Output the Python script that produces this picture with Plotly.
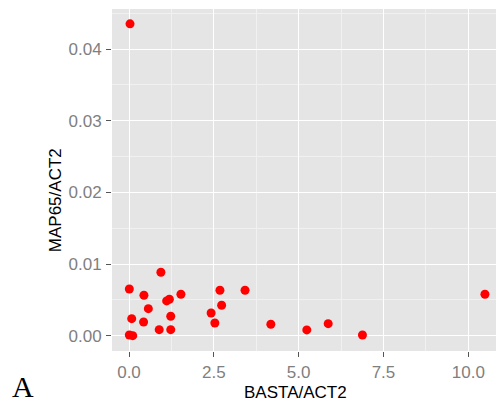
import plotly.graph_objects as go

basta = [0.03, 0.01, 0.94, 0.44, 0.57, 1.11, 1.19, 1.53, 0.08, 0.43, 1.23, 0.89, 1.23,
         0.01, 0.11, 2.42, 2.53, 2.68, 2.73, 3.42, 4.18, 5.24, 5.87, 6.88, 10.49]
map65 = [0.04353, 0.00652, 0.00885, 0.00564, 0.00377, 0.00485, 0.00508, 0.00578, 0.00237,
         0.00191, 0.00271, 0.00084, 0.00084, 0.0001, 0.0, 0.00317, 0.00177, 0.00634,
         0.00424, 0.00634, 0.00159, 0.0008, 0.00168, 0.0001, 0.00578]

x_ticks = [0, 2.5, 5, 7.5, 10]
x_ticklabels = ["0.0", "2.5", "5.0", "7.5", "10.0"]
y_ticks = [0, 0.01, 0.02, 0.03, 0.04]
y_ticklabels = ["0.00", "0.01", "0.02", "0.03", "0.04"]

font = "Liberation Sans, Arial, sans-serif"

fig = go.Figure()
fig.add_trace(go.Scatter(x=basta, y=map65, mode="markers",
                         marker=dict(color="#FF0000", size=9, line=dict(width=0)),
                         hoverinfo="skip", showlegend=False))

axis_common = dict(
    showgrid=True, gridcolor="#FFFFFF", gridwidth=1.4,
    zeroline=False, showline=False,
    ticks="outside", ticklen=5, tickwidth=1, tickcolor="#555555",
    tickfont=dict(family=font, size=17, color="#7F7F7F"),
)

fig.update_layout(
    width=496, height=405,
    margin=dict(l=112, r=0, t=9, b=54),
    paper_bgcolor="white", plot_bgcolor="#E5E5E5",
    xaxis=dict(range=[-0.501, 10.816], tickvals=x_ticks, ticktext=x_ticklabels,
               minor=dict(showgrid=True, dtick=1.25, tick0=0, gridcolor="#F1F1F1",
                          gridwidth=0.6, ticks=""),
               ticklabelstandoff=1, **axis_common),
    yaxis=dict(range=[-0.00214, 0.0456], tickvals=y_ticks, ticktext=y_ticklabels,
               minor=dict(showgrid=True, dtick=0.005, tick0=0, gridcolor="#F1F1F1",
                          gridwidth=0.6, ticks=""),
               ticklabelstandoff=1, **axis_common),
    annotations=[
        dict(text="BASTA/ACT2", xref="paper", yref="paper", x=0.478, y=(351 - 392) / 342,
             xanchor="center", yanchor="middle", showarrow=False,
             font=dict(family=font, size=17, color="#000000")),
        dict(text="MAP65/ACT2", xref="paper", yref="paper", x=-0.148, y=0.4415,
             xanchor="center", yanchor="middle", showarrow=False, textangle=-90,
             font=dict(family=font, size=17, color="#000000")),
        dict(text="A", xref="paper", yref="paper", x=(22.5 - 112) / 384, y=(351 - 405) / 342,
             xanchor="center", yanchor="bottom", showarrow=False,
             font=dict(family="Liberation Serif, Times New Roman, serif", size=30, color="#000000")),
    ],
)

fig.write_html("out.html")
